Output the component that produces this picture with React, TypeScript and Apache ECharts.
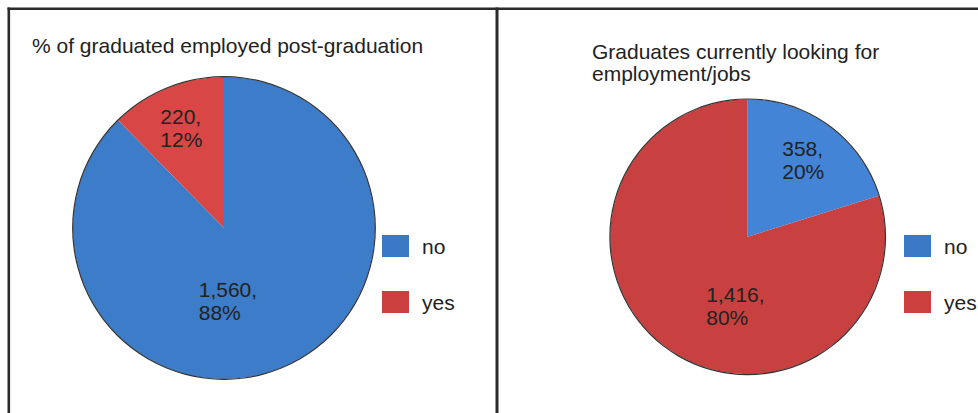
import React, { useEffect, useRef } from "react";
import * as echarts from "echarts";

// ---- data ----
const categories = ["no", "yes"];
const employedValues = [1560, 220];
const lookingValues = [358, 1416];
const titleLeft = "% of graduated employed post-graduation";
const titleRight = "Graduates currently looking for\nemployment/jobs";

// ---- styles ----
const FONT = "'Liberation Sans', Arial, sans-serif";
const TEXT = "#222222";
const leftColors = ["#3d7cc9", "#d84646"];
const rightColors = ["#4384d6", "#c94040"];
const legendColors = ["#3b78c6", "#cb3f3f"];

// label offsets (dx, dy) relative to the default inside position, per series/data
const labelShift: number[][][] = [
  [[-55, 0], [-34, -27]],
  [[-8, -19], [1, 11]],
];

const fmt = (p: any) =>
  `${Number(p.value).toLocaleString("en-US")},\n${Math.round(p.percent)}%`;

export default function App() {
  const ref = useRef<HTMLDivElement>(null);
  useEffect(() => {
    if (!ref.current) return;
    const chart = echarts.init(ref.current, null, { renderer: "svg" });
    const L = { cx: 224, cy: 228, r: 151 };
    const R = { cx: 747.7, cy: 236.8, r: 137.5 };
    const mkPie = (vals: number[], colors: string[], g: any, si: number) => ({
      type: "pie",
      center: [g.cx, g.cy],
      radius: [0, g.r],
      startAngle: 90,
      clockwise: true,
      percentPrecision: 0,
      silent: true,
      z: 2,
      itemStyle: { borderWidth: 0 },
      label: {
        show: true,
        position: "inside",
        formatter: fmt,
        fontFamily: FONT,
        fontSize: 21,
        lineHeight: 23,
        color: TEXT,
      },
      labelLine: { show: false },
      labelLayout: (p: any) => ({
        align: "left",
        verticalAlign: "middle",
        dx: labelShift[si][p.dataIndex][0],
        dy: labelShift[si][p.dataIndex][1],
      }),
      data: categories.map((c, i) => ({
        name: c,
        value: vals[i],
        itemStyle: { color: colors[i] },
      })),
    });
    const mkOutline = (g: any) => ({
      type: "pie",
      center: [g.cx, g.cy],
      radius: [g.r - 0.3, g.r + 0.9],
      silent: true,
      z: 3,
      label: { show: false },
      labelLine: { show: false },
      itemStyle: { color: "#333333", borderWidth: 0 },
      data: [{ name: "outline", value: 1 }],
    });
    const legendBase = {
      orient: "vertical",
      top: 235,
      padding: 0,
      icon: "rect",
      itemWidth: 27,
      itemHeight: 22,
      itemGap: 34,
      selectedMode: false,
      textStyle: {
        fontFamily: FONT,
        fontSize: 21,
        lineHeight: 22,
        color: TEXT,
        padding: [0, 0, 0, 8],
      },
      data: categories.map((c, i) => ({
        name: c,
        itemStyle: { color: legendColors[i] },
      })),
    };
    chart.setOption({
      animation: false,
      backgroundColor: "#ffffff",
      title: [
        {
          text: titleLeft,
          left: 32,
          top: 35,
          padding: 0,
          textStyle: {
            fontFamily: FONT,
            fontSize: 21,
            lineHeight: 21,
            fontWeight: "normal",
            color: TEXT,
          },
        },
        {
          text: titleRight,
          left: 592,
          top: 40,
          padding: 0,
          textStyle: {
            fontFamily: FONT,
            fontSize: 21,
            lineHeight: 22,
            fontWeight: "normal",
            color: TEXT,
          },
        },
      ],
      legend: [
        { ...legendBase, left: 382 },
        { ...legendBase, left: 904 },
      ],
      graphic: [
        { type: "rect", shape: { x: 7.5, y: 7.5, width: 971, height: 2.6 }, style: { fill: "#2b2b2b" } },
        { type: "rect", shape: { x: 7.5, y: 7.5, width: 2.6, height: 406 }, style: { fill: "#2b2b2b" } },
        { type: "rect", shape: { x: 495.5, y: 7.5, width: 3, height: 406 }, style: { fill: "#2b2b2b" } },
      ],
      series: [
        mkPie(employedValues, leftColors, L, 0),
        mkOutline(L),
        mkPie(lookingValues, rightColors, R, 1),
        mkOutline(R),
      ],
    });
    return () => chart.dispose();
  }, []);
  return (
    <div
      ref={ref}
      style={{ position: "fixed", left: 0, top: 0, width: 978, height: 413 }}
    />
  );
}
